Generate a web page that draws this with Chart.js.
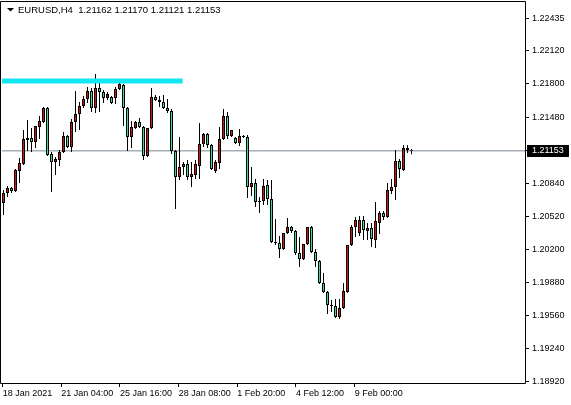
<!DOCTYPE html>
<html>
<head>
<meta charset="utf-8">
<script src="https://cdn.jsdelivr.net/npm/chart.js@4.4.1/dist/chart.umd.min.js"></script>
<style>
  html,body{margin:0;padding:0;background:#fff;}
  canvas{display:block;}
</style>
</head>
<body>
<canvas id="chart" width="571" height="405"></canvas>
<script>
/* EURUSD H4 candles
   red body = bullish, green body = bearish (terminal colour scheme) */
const symbolTitle = 'EURUSD,H4';

const opens = [
  1.20648,1.20745,1.20794,1.20764,1.20958,1.21026,1.21258,1.21277,1.21238,1.21384,
  1.21432,1.21567,1.21122,1.21045,1.21064,1.21142,1.21297,1.21190,1.21432,1.21509,
  1.21587,1.21654,1.21732,1.21567,1.21761,1.21722,1.21664,1.21674,1.21664,1.21751,
  1.21790,1.21567,1.21287,1.21374,1.21432,1.21384,1.21103,1.21374,1.21674,1.21645,
  1.21625,1.21567,1.21538,1.21151,1.20900,1.20997,1.21026,1.20900,1.20919,1.21006,
  1.21219,1.21316,1.21209,1.20958,1.21035,1.21267,1.21490,1.21297,1.21277,1.21229,
  1.21297,1.21287,1.20803,1.20842,1.20668,1.20668,1.20823,1.20687,1.20271,1.20262,
  1.20203,1.20358,1.20416,1.20378,1.20165,1.20107,1.20252,1.20416,1.20174,1.20087,
  1.19875,1.19787,1.19662,1.19652,1.19546,1.19633,1.19787,1.20242,1.20416,1.20358,
  1.20484,1.20378,1.20407,1.20290,1.20455,1.20552,1.20513,1.20764,1.20803,1.21055,
  1.20968,1.21180,1.21162
];
const highs = [
  1.20774,1.20813,1.20803,1.20977,1.21084,1.21355,1.21451,1.21374,1.21393,1.21490,
  1.21577,1.21577,1.21142,1.21093,1.21161,1.21335,1.21306,1.21461,1.21732,1.21625,
  1.21683,1.21771,1.21761,1.21896,1.21848,1.21741,1.21722,1.21683,1.21771,1.21829,
  1.21800,1.21577,1.21442,1.21442,1.21471,1.21393,1.21374,1.21761,1.21693,1.21683,
  1.21693,1.21654,1.21558,1.21161,1.21287,1.21045,1.21064,1.21045,1.21064,1.21422,
  1.21326,1.21326,1.21219,1.21064,1.21384,1.21558,1.21529,1.21355,1.21287,1.21364,
  1.21306,1.21306,1.20997,1.20881,1.20706,1.20881,1.20871,1.20871,1.20494,1.20329,
  1.20358,1.20503,1.20426,1.20387,1.20320,1.20252,1.20416,1.20426,1.20203,1.20097,
  1.19971,1.19797,1.19710,1.19720,1.19720,1.19875,1.20242,1.20436,1.20513,1.20523,
  1.20523,1.20455,1.20455,1.20658,1.20571,1.20571,1.20842,1.20881,1.21161,1.21074,
  1.21210,1.21210,1.21170
];
const lows = [
  1.20532,1.20706,1.20745,1.20755,1.20842,1.21016,1.21151,1.21142,1.21180,1.21267,
  1.21422,1.21103,1.20755,1.20919,1.21006,1.21132,1.21180,1.21142,1.21335,1.21355,
  1.21567,1.21616,1.21529,1.21519,1.21529,1.21616,1.21645,1.21606,1.21606,1.21741,
  1.21393,1.21151,1.21180,1.21364,1.21374,1.21064,1.21093,1.21364,1.21635,1.21577,
  1.21558,1.21519,1.21122,1.20590,1.20871,1.20919,1.20871,1.20803,1.20881,1.20881,
  1.21190,1.21180,1.20968,1.20939,1.20977,1.21258,1.21267,1.21287,1.21219,1.21200,
  1.21277,1.20697,1.20716,1.20610,1.20552,1.20629,1.20629,1.20262,1.20242,1.20116,
  1.20194,1.20349,1.20358,1.20145,1.20029,1.20097,1.20242,1.20165,1.20029,1.19865,
  1.19778,1.19575,1.19594,1.19536,1.19526,1.19623,1.19778,1.20232,1.20320,1.20329,
  1.20290,1.20290,1.20223,1.20213,1.20349,1.20484,1.20503,1.20735,1.20677,1.20890,
  1.20958,1.21132,1.21121
];
const closes = [
  1.20745,1.20794,1.20764,1.20968,1.21035,1.21267,1.21277,1.21238,1.21393,1.21442,
  1.21567,1.21113,1.21045,1.21074,1.21142,1.21297,1.21190,1.21432,1.21509,1.21587,
  1.21654,1.21732,1.21567,1.21761,1.21722,1.21664,1.21703,1.21616,1.21751,1.21800,
  1.21567,1.21287,1.21384,1.21432,1.21384,1.21103,1.21374,1.21674,1.21645,1.21625,
  1.21567,1.21538,1.21151,1.20900,1.20997,1.21026,1.20900,1.20929,1.21026,1.21219,
  1.21316,1.21209,1.20977,1.21045,1.21267,1.21490,1.21297,1.21355,1.21229,1.21297,
  1.21287,1.20803,1.20842,1.20658,1.20658,1.20813,1.20687,1.20271,1.20262,1.20203,
  1.20358,1.20416,1.20378,1.20165,1.20107,1.20252,1.20416,1.20174,1.20087,1.19875,
  1.19787,1.19662,1.19652,1.19546,1.19633,1.19797,1.20242,1.20416,1.20484,1.20484,
  1.20387,1.20407,1.20300,1.20474,1.20552,1.20513,1.20774,1.20803,1.21055,1.20977,
  1.21180,1.21160,1.21153
];

// right price scale
const priceTicks = [1.22435,1.22120,1.21800,1.21480,1.21153,1.20840,1.20520,1.20200,1.19880,1.19560,1.19240,1.18920];
// bottom time scale (positions in bars)
const timeLabels = ['18 Jan 2021','21 Jan 04:00','25 Jan 16:00','28 Jan 08:00','1 Feb 20:00','4 Feb 12:00','9 Feb 00:00'];
const timeTickPos = [-0.2, 14.45, 29.1, 43.8, 58.45, 73.1, 87.8];

const bidPrice = 1.21153;
const levelPrice = 1.21829;   // cyan horizontal line
const levelEndBar = 44.8;

const BULL = '#D01414';
const BEAR = '#36DE98';
const X_MIN = -0.375, X_MAX = 130.375;
const FONT = 'Liberation Sans';

Chart.defaults.font.family = FONT;
Chart.defaults.font.size = 9;
Chart.defaults.color = '#000';

const bodies = opens.map((o,i) => ({x:i, y:[o, closes[i]]}));
// wick split above / below the body so it never covers the body fill
const upperWicks = highs.map((h,i) => ({x:i, y:[Math.max(opens[i], closes[i]), h]}));
const lowerWicks = lows.map((l,i) => ({x:i, y:[l, Math.min(opens[i], closes[i])]}));
const bodyColors = opens.map((o,i) => closes[i] >= o ? BULL : BEAR);

// no label overhang padding, so the plot box is exactly the terminal's
function noPad(s){
  s.paddingTop = 0; s.paddingBottom = 0;
  s.paddingLeft = 0; s.paddingRight = 0;
}

const wickStyle = {
  type: 'bar', backgroundColor: '#000', borderWidth: 0,
  grouped: false, inflateAmount: 0,
  barPercentage: 1, categoryPercentage: 1, maxBarThickness: 1
};

const mtFrame = {
  id: 'mtFrame',
  beforeDraw(chart){
    const c = chart.ctx, a = chart.chartArea;
    const y = chart.scales.y.getPixelForValue(bidPrice);
    c.save();
    c.fillStyle = '#000';
    c.fillRect(a.right + 2, Math.round(y) - 6, 42, 12);
    c.restore();
  },
  afterDraw(chart){
    const c = chart.ctx, a = chart.chartArea;
    c.save();
    c.strokeStyle = '#000';
    c.lineWidth = 1;
    c.beginPath();
    c.moveTo(0.5, 1.5); c.lineTo(a.right + 0.5, 1.5);
    c.lineTo(a.right + 0.5, a.bottom + 0.5); c.lineTo(0.5, a.bottom + 0.5);
    c.closePath();
    c.stroke();
    // symbol + last bar OHLC
    const n = closes.length - 1;
    c.fillStyle = '#000';
    c.beginPath();
    c.moveTo(7, 8); c.lineTo(14, 8); c.lineTo(10.5, 11.5); c.closePath();
    c.fill();
    c.font = '9.5px ' + FONT;
    c.textBaseline = 'middle';
    const txt = symbolTitle + '  ' + [opens[n], highs[n], lows[n], closes[n]].map(v => v.toFixed(5)).join(' ');
    c.fillText(txt, 18, 10);
    c.restore();
  }
};

new Chart(document.getElementById('chart'), {
  data: {
    datasets: [
      {
        type: 'line', label: 'level',
        data: [{x: X_MIN, y: levelPrice}, {x: levelEndBar, y: levelPrice}],
        borderColor: '#12E6F0', borderWidth: 5, pointRadius: 0, order: 0
      },
      {
        type: 'bar', label: 'body', data: bodies,
        backgroundColor: bodyColors, borderColor: '#000', borderWidth: 1,
        borderSkipped: false, grouped: false, inflateAmount: 0,
        barPercentage: 1, categoryPercentage: 1, maxBarThickness: 3, order: 1
      },
      Object.assign({label: 'upper wick', data: upperWicks, order: 2}, wickStyle),
      Object.assign({label: 'lower wick', data: lowerWicks, order: 2}, wickStyle),
      {
        type: 'line', label: 'bid',
        data: [{x: X_MIN, y: bidPrice}, {x: X_MAX, y: bidPrice}],
        borderColor: '#7A8791', borderWidth: 1, pointRadius: 0, order: 5
      }
    ]
  },
  options: {
    responsive: false,
    animation: false,
    devicePixelRatio: 1,
    layout: {padding: {left: 2, top: 2, right: 0, bottom: 0}},
    plugins: {legend: {display: false}, tooltip: {enabled: false}},
    scales: {
      x: {
        type: 'linear', min: X_MIN, max: X_MAX, offset: false,
        afterBuildTicks: s => { s.ticks = timeTickPos.map(v => ({value: v})); },
        afterFit: s => { s.height = 22; noPad(s); },
        ticks: {
          callback: (v, i) => timeLabels[i],
          align: 'start', autoSkip: false, maxRotation: 0, padding: 1,
          font: {size: 9}
        },
        grid: {drawOnChartArea: false, offset: false, tickLength: 4, color: '#000'},
        border: {display: false}
      },
      y: {
        type: 'linear', position: 'right', min: 1.18907, max: 1.22593,
        afterBuildTicks: s => { s.ticks = priceTicks.map(v => ({value: v})); },
        afterFit: s => { s.width = 46; noPad(s); },
        ticks: {
          callback: v => v.toFixed(5),
          color: ctx => (ctx.tick && ctx.tick.value === bidPrice) ? '#fff' : '#000',
          padding: 3, font: {size: 9}
        },
        grid: {drawOnChartArea: false, tickLength: 4, color: '#000'},
        border: {display: false}
      }
    }
  },
  plugins: [mtFrame]
});
</script>
</body>
</html>
